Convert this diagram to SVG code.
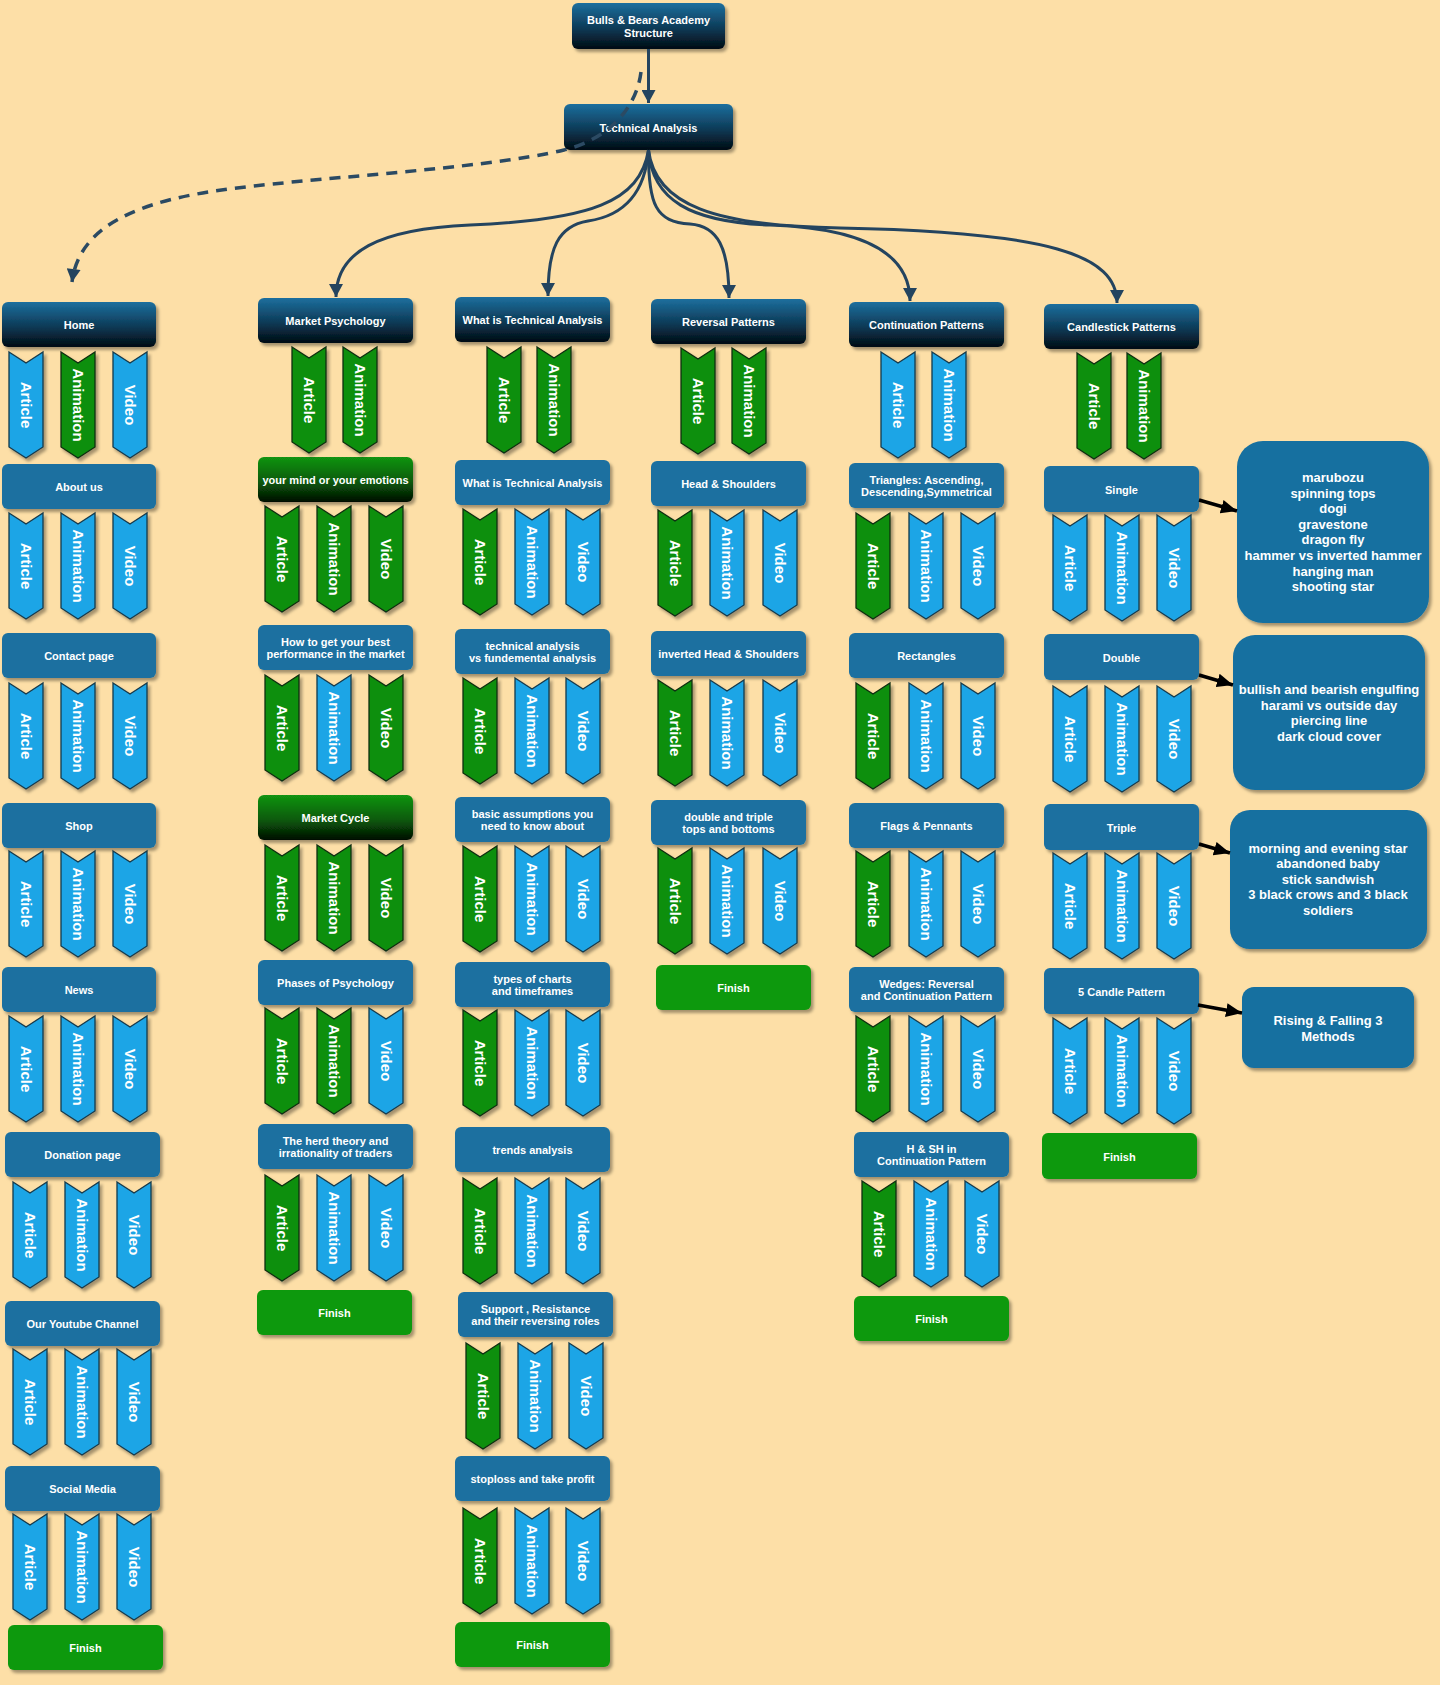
<svg xmlns="http://www.w3.org/2000/svg" xmlns:xlink="http://www.w3.org/1999/xlink" width="1440" height="1685" viewBox="0 0 1440 1685">
<defs>
<linearGradient id="gHd" x1="0" y1="0" x2="0" y2="1"><stop offset="0" stop-color="#1d6f9e"/><stop offset="0.55" stop-color="#0d3a56"/><stop offset="1" stop-color="#020b12"/></linearGradient>
<linearGradient id="gGn" x1="0" y1="0" x2="0" y2="1"><stop offset="0" stop-color="#129412"/><stop offset="0.55" stop-color="#0a5a0a"/><stop offset="1" stop-color="#020e02"/></linearGradient>
<filter id="sh" x="-10%" y="-10%" width="125%" height="135%"><feDropShadow dx="2.5" dy="3" stdDeviation="1.8" flood-color="#000" flood-opacity="0.35"/></filter>
<path id="cv" d="M0,0 L17,11 L34,0 L34,95 L17,106 L0,95 Z"/>
<marker id="mA" markerUnits="userSpaceOnUse" markerWidth="14" markerHeight="14" viewBox="0 0 12 13" refX="12" refY="6.5" orient="auto"><path d="M0,0 L12,6.5 L0,13 Z" fill="#24445f"/></marker>
<marker id="mK" markerUnits="userSpaceOnUse" markerWidth="16" markerHeight="16" viewBox="0 0 15 13" refX="15" refY="6.5" orient="auto"><path d="M0,0 L15,6.5 L0,13 Z" fill="#000"/></marker>
<style>
.hd{fill:url(#gHd);filter:url(#sh)}
.nb{fill:#1a70a0;filter:url(#sh)}
.gn{fill:url(#gGn);filter:url(#sh)}
.fin{fill:#0a990a;filter:url(#sh)}
.rb{fill:#156fa0;filter:url(#sh)}
.lb{font-family:"Liberation Sans",Arial,sans-serif;font-weight:bold;font-size:11px;fill:#fff;text-anchor:middle}
.rt{font-family:"Liberation Sans",Arial,sans-serif;font-weight:bold;font-size:13px;fill:#fff;text-anchor:middle}
.cb{fill:#1fa5e6;stroke:#173a4c;stroke-width:1.3;filter:url(#sh)}
.cg{fill:#0a8f10;stroke:#0f2e12;stroke-width:1.3;filter:url(#sh)}
.ct{font-family:"Liberation Sans",Arial,sans-serif;font-weight:bold;font-size:15px;fill:#fff;text-anchor:middle;dominant-baseline:central}
.cn{fill:none;stroke:#24445f;stroke-width:3}
.dsh{fill:none;stroke:#2b4a63;stroke-width:3.5;stroke-dasharray:11 8}
.blk{fill:none;stroke:#000;stroke-width:3.5}
</style>
</defs>
<rect x="0" y="0" width="1440" height="1685" fill="#fddfa7"/>

<g id="nodes">
<g id="n-root"><rect class="hd" x="572" y="3" width="153" height="46" rx="6"/><text class="lb" x="648.5" y="24">Bulls &amp; Bears Academy</text><text class="lb" x="648.5" y="37">Structure</text></g>
<g id="n-ta"><rect class="hd" x="564" y="104" width="169" height="46" rx="6"/><text class="lb" x="648.5" y="132">Technical Analysis</text></g>

<!-- Column 1 -->
<g id="n-home"><rect class="hd" x="2" y="302" width="154" height="45" rx="6"/><text class="lb" x="79" y="329">Home</text></g>
<g id="n-about"><rect class="nb" x="2" y="464" width="154" height="45" rx="6"/><text class="lb" x="79" y="491">About us</text></g>
<g id="n-contact"><rect class="nb" x="2" y="633" width="154" height="45" rx="6"/><text class="lb" x="79" y="660">Contact page</text></g>
<g id="n-shop"><rect class="nb" x="2" y="803" width="154" height="45" rx="6"/><text class="lb" x="79" y="830">Shop</text></g>
<g id="n-news"><rect class="nb" x="2" y="967" width="154" height="45" rx="6"/><text class="lb" x="79" y="994">News</text></g>
<g id="n-donation"><rect class="nb" x="5" y="1132" width="155" height="45" rx="6"/><text class="lb" x="82.5" y="1159">Donation page</text></g>
<g id="n-youtube"><rect class="nb" x="5" y="1301" width="155" height="45" rx="6"/><text class="lb" x="82.5" y="1328">Our Youtube Channel</text></g>
<g id="n-social"><rect class="nb" x="5" y="1466" width="155" height="45" rx="6"/><text class="lb" x="82.5" y="1493">Social Media</text></g>
<g id="n-fin1"><rect class="fin" x="8" y="1625" width="155" height="45" rx="6"/><text class="lb" x="85.5" y="1652">Finish</text></g>

<!-- Column 2 -->
<g id="n-mp"><rect class="hd" x="258" y="298" width="155" height="45" rx="6"/><text class="lb" x="335.5" y="325">Market Psychology</text></g>
<g id="n-mind"><rect class="gn" x="258" y="457" width="155" height="45" rx="6"/><text class="lb" x="335.5" y="484">your mind or your emotions</text></g>
<g id="n-best"><rect class="nb" x="258" y="625" width="155" height="45" rx="6"/><text class="lb" x="335.5" y="646">How to get your best</text><text class="lb" x="335.5" y="658">performance in the market</text></g>
<g id="n-cycle"><rect class="gn" x="258" y="795" width="155" height="45" rx="6"/><text class="lb" x="335.5" y="822">Market Cycle</text></g>
<g id="n-phases"><rect class="nb" x="258" y="960" width="155" height="45" rx="6"/><text class="lb" x="335.5" y="987">Phases of Psychology</text></g>
<g id="n-herd"><rect class="nb" x="258" y="1124" width="155" height="45" rx="6"/><text class="lb" x="335.5" y="1145">The herd theory and</text><text class="lb" x="335.5" y="1157">irrationality of traders</text></g>
<g id="n-fin2"><rect class="fin" x="257" y="1290" width="155" height="45" rx="6"/><text class="lb" x="334.5" y="1317">Finish</text></g>

<!-- Column 3 -->
<g id="n-wita"><rect class="hd" x="455" y="297" width="155" height="45" rx="6"/><text class="lb" x="532.5" y="324">What is Technical Analysis</text></g>
<g id="n-wita2"><rect class="nb" x="455" y="460" width="155" height="45" rx="6"/><text class="lb" x="532.5" y="487">What is Technical Analysis</text></g>
<g id="n-tavsfa"><rect class="nb" x="455" y="629" width="155" height="45" rx="6"/><text class="lb" x="532.5" y="650">technical analysis</text><text class="lb" x="532.5" y="662">vs fundemental analysis</text></g>
<g id="n-basic"><rect class="nb" x="455" y="797" width="155" height="45" rx="6"/><text class="lb" x="532.5" y="818">basic assumptions you</text><text class="lb" x="532.5" y="830">need to know about</text></g>
<g id="n-charts"><rect class="nb" x="455" y="962" width="155" height="45" rx="6"/><text class="lb" x="532.5" y="983">types of charts</text><text class="lb" x="532.5" y="995">and timeframes</text></g>
<g id="n-trends"><rect class="nb" x="455" y="1127" width="155" height="45" rx="6"/><text class="lb" x="532.5" y="1154">trends analysis</text></g>
<g id="n-support"><rect class="nb" x="458" y="1292" width="155" height="45" rx="6"/><text class="lb" x="535.5" y="1313">Support , Resistance</text><text class="lb" x="535.5" y="1325">and their reversing roles</text></g>
<g id="n-stop"><rect class="nb" x="455" y="1456" width="155" height="45" rx="6"/><text class="lb" x="532.5" y="1483">stoploss and take profit</text></g>
<g id="n-fin3"><rect class="fin" x="455" y="1622" width="155" height="45" rx="6"/><text class="lb" x="532.5" y="1649">Finish</text></g>

<!-- Column 4 -->
<g id="n-rev"><rect class="hd" x="651" y="299" width="155" height="45" rx="6"/><text class="lb" x="728.5" y="326">Reversal Patterns</text></g>
<g id="n-hs"><rect class="nb" x="651" y="461" width="155" height="45" rx="6"/><text class="lb" x="728.5" y="488">Head &amp; Shoulders</text></g>
<g id="n-ihs"><rect class="nb" x="651" y="631" width="155" height="45" rx="6"/><text class="lb" x="728.5" y="658">inverted Head &amp; Shoulders</text></g>
<g id="n-dbl"><rect class="nb" x="651" y="800" width="155" height="45" rx="6"/><text class="lb" x="728.5" y="821">double and triple</text><text class="lb" x="728.5" y="833">tops and bottoms</text></g>
<g id="n-fin4"><rect class="fin" x="656" y="965" width="155" height="45" rx="6"/><text class="lb" x="733.5" y="992">Finish</text></g>

<!-- Column 5 -->
<g id="n-cont"><rect class="hd" x="849" y="302" width="155" height="45" rx="6"/><text class="lb" x="926.5" y="329">Continuation Patterns</text></g>
<g id="n-tri"><rect class="nb" x="849" y="463" width="155" height="45" rx="6"/><text class="lb" x="926.5" y="484">Triangles: Ascending,</text><text class="lb" x="926.5" y="496">Descending,Symmetrical</text></g>
<g id="n-rect"><rect class="nb" x="849" y="633" width="155" height="45" rx="6"/><text class="lb" x="926.5" y="660">Rectangles</text></g>
<g id="n-flags"><rect class="nb" x="849" y="803" width="155" height="45" rx="6"/><text class="lb" x="926.5" y="830">Flags &amp; Pennants</text></g>
<g id="n-wedges"><rect class="nb" x="849" y="967" width="155" height="45" rx="6"/><text class="lb" x="926.5" y="988">Wedges: Reversal</text><text class="lb" x="926.5" y="1000">and Continuation Pattern</text></g>
<g id="n-hsh"><rect class="nb" x="854" y="1132" width="155" height="45" rx="6"/><text class="lb" x="931.5" y="1153">H &amp; SH in</text><text class="lb" x="931.5" y="1165">Continuation Pattern</text></g>
<g id="n-fin5"><rect class="fin" x="854" y="1296" width="155" height="45" rx="6"/><text class="lb" x="931.5" y="1323">Finish</text></g>

<!-- Column 6 -->
<g id="n-candle"><rect class="hd" x="1044" y="304" width="155" height="45" rx="6"/><text class="lb" x="1121.5" y="331">Candlestick Patterns</text></g>
<g id="n-single"><rect class="nb" x="1044" y="466" width="155" height="46" rx="6"/><text class="lb" x="1121.5" y="494">Single</text></g>
<g id="n-double"><rect class="nb" x="1044" y="634" width="155" height="46" rx="6"/><text class="lb" x="1121.5" y="662">Double</text></g>
<g id="n-triple"><rect class="nb" x="1044" y="804" width="155" height="46" rx="6"/><text class="lb" x="1121.5" y="832">Triple</text></g>
<g id="n-five"><rect class="nb" x="1044" y="968" width="155" height="46" rx="6"/><text class="lb" x="1121.5" y="996">5 Candle Pattern</text></g>
<g id="n-fin6"><rect class="fin" x="1042" y="1133" width="155" height="46" rx="6"/><text class="lb" x="1119.5" y="1161">Finish</text></g>

<!-- Right info boxes -->
<g id="n-single-list"><rect class="rb" x="1237" y="441" width="192" height="182" rx="26"/>
<text class="rt" x="1333" y="482">marubozu</text><text class="rt" x="1333" y="497.5">spinning tops</text><text class="rt" x="1333" y="513">dogi</text><text class="rt" x="1333" y="528.5">gravestone</text><text class="rt" x="1333" y="544">dragon fly</text><text class="rt" x="1333" y="560">hammer vs inverted hammer</text><text class="rt" x="1333" y="575.5">hanging man</text><text class="rt" x="1333" y="591">shooting star</text></g>
<g id="n-double-list"><rect class="rb" x="1233" y="635" width="192" height="155" rx="22"/>
<text class="rt" x="1329" y="694">bullish and bearish engulfing</text><text class="rt" x="1329" y="709.5">harami vs outside day</text><text class="rt" x="1329" y="725">piercing line</text><text class="rt" x="1329" y="740.5">dark cloud cover</text></g>
<g id="n-triple-list"><rect class="rb" x="1230" y="810" width="197" height="139" rx="20"/>
<text class="rt" x="1328" y="852.5">morning and evening star</text><text class="rt" x="1328" y="868">abandoned baby</text><text class="rt" x="1328" y="883.5">stick sandwish</text><text class="rt" x="1328" y="899">3 black crows and 3 black</text><text class="rt" x="1328" y="914.5">soldiers</text></g>
<g id="n-five-list"><rect class="rb" x="1242" y="987" width="172" height="81" rx="12"/>
<text class="rt" x="1328" y="1024.5">Rising &amp; Falling 3</text><text class="rt" x="1328" y="1040.5">Methods</text></g>
</g>

<g id="chevrons">
<!-- Column 1 -->
<g id="c-home-a"><use href="#cv" x="9" y="352" class="cb"/><text class="ct" transform="translate(26,405) rotate(90)">Article</text></g>
<g id="c-home-b"><use href="#cv" x="61" y="352" class="cg"/><text class="ct" transform="translate(78,405) rotate(90)">Animation</text></g>
<g id="c-home-c"><use href="#cv" x="113" y="352" class="cb"/><text class="ct" transform="translate(130,405) rotate(90)">Video</text></g>
<g id="c-about-a"><use href="#cv" x="9" y="513" class="cb"/><text class="ct" transform="translate(26,566) rotate(90)">Article</text></g>
<g id="c-about-b"><use href="#cv" x="61" y="513" class="cb"/><text class="ct" transform="translate(78,566) rotate(90)">Animation</text></g>
<g id="c-about-c"><use href="#cv" x="113" y="513" class="cb"/><text class="ct" transform="translate(130,566) rotate(90)">Video</text></g>
<g id="c-contact-a"><use href="#cv" x="9" y="683" class="cb"/><text class="ct" transform="translate(26,736) rotate(90)">Article</text></g>
<g id="c-contact-b"><use href="#cv" x="61" y="683" class="cb"/><text class="ct" transform="translate(78,736) rotate(90)">Animation</text></g>
<g id="c-contact-c"><use href="#cv" x="113" y="683" class="cb"/><text class="ct" transform="translate(130,736) rotate(90)">Video</text></g>
<g id="c-shop-a"><use href="#cv" x="9" y="851" class="cb"/><text class="ct" transform="translate(26,904) rotate(90)">Article</text></g>
<g id="c-shop-b"><use href="#cv" x="61" y="851" class="cb"/><text class="ct" transform="translate(78,904) rotate(90)">Animation</text></g>
<g id="c-shop-c"><use href="#cv" x="113" y="851" class="cb"/><text class="ct" transform="translate(130,904) rotate(90)">Video</text></g>
<g id="c-news-a"><use href="#cv" x="9" y="1016" class="cb"/><text class="ct" transform="translate(26,1069) rotate(90)">Article</text></g>
<g id="c-news-b"><use href="#cv" x="61" y="1016" class="cb"/><text class="ct" transform="translate(78,1069) rotate(90)">Animation</text></g>
<g id="c-news-c"><use href="#cv" x="113" y="1016" class="cb"/><text class="ct" transform="translate(130,1069) rotate(90)">Video</text></g>
<g id="c-don-a"><use href="#cv" x="13" y="1182" class="cb"/><text class="ct" transform="translate(30,1235) rotate(90)">Article</text></g>
<g id="c-don-b"><use href="#cv" x="65" y="1182" class="cb"/><text class="ct" transform="translate(82,1235) rotate(90)">Animation</text></g>
<g id="c-don-c"><use href="#cv" x="117" y="1182" class="cb"/><text class="ct" transform="translate(134,1235) rotate(90)">Video</text></g>
<g id="c-yt-a"><use href="#cv" x="13" y="1349" class="cb"/><text class="ct" transform="translate(30,1402) rotate(90)">Article</text></g>
<g id="c-yt-b"><use href="#cv" x="65" y="1349" class="cb"/><text class="ct" transform="translate(82,1402) rotate(90)">Animation</text></g>
<g id="c-yt-c"><use href="#cv" x="117" y="1349" class="cb"/><text class="ct" transform="translate(134,1402) rotate(90)">Video</text></g>
<g id="c-soc-a"><use href="#cv" x="13" y="1514" class="cb"/><text class="ct" transform="translate(30,1567) rotate(90)">Article</text></g>
<g id="c-soc-b"><use href="#cv" x="65" y="1514" class="cb"/><text class="ct" transform="translate(82,1567) rotate(90)">Animation</text></g>
<g id="c-soc-c"><use href="#cv" x="117" y="1514" class="cb"/><text class="ct" transform="translate(134,1567) rotate(90)">Video</text></g>

<!-- Column 2 -->
<g id="c-mp-a"><use href="#cv" x="292" y="347" class="cg"/><text class="ct" transform="translate(309,400) rotate(90)">Article</text></g>
<g id="c-mp-b"><use href="#cv" x="343" y="347" class="cg"/><text class="ct" transform="translate(360,400) rotate(90)">Animation</text></g>
<g id="c-mind-a"><use href="#cv" x="265" y="506" class="cg"/><text class="ct" transform="translate(282,559) rotate(90)">Article</text></g>
<g id="c-mind-b"><use href="#cv" x="317" y="506" class="cg"/><text class="ct" transform="translate(334,559) rotate(90)">Animation</text></g>
<g id="c-mind-c"><use href="#cv" x="369" y="506" class="cg"/><text class="ct" transform="translate(386,559) rotate(90)">Video</text></g>
<g id="c-best-a"><use href="#cv" x="265" y="675" class="cg"/><text class="ct" transform="translate(282,728) rotate(90)">Article</text></g>
<g id="c-best-b"><use href="#cv" x="317" y="675" class="cb"/><text class="ct" transform="translate(334,728) rotate(90)">Animation</text></g>
<g id="c-best-c"><use href="#cv" x="369" y="675" class="cg"/><text class="ct" transform="translate(386,728) rotate(90)">Video</text></g>
<g id="c-cycle-a"><use href="#cv" x="265" y="845" class="cg"/><text class="ct" transform="translate(282,898) rotate(90)">Article</text></g>
<g id="c-cycle-b"><use href="#cv" x="317" y="845" class="cg"/><text class="ct" transform="translate(334,898) rotate(90)">Animation</text></g>
<g id="c-cycle-c"><use href="#cv" x="369" y="845" class="cg"/><text class="ct" transform="translate(386,898) rotate(90)">Video</text></g>
<g id="c-phases-a"><use href="#cv" x="265" y="1008" class="cg"/><text class="ct" transform="translate(282,1061) rotate(90)">Article</text></g>
<g id="c-phases-b"><use href="#cv" x="317" y="1008" class="cg"/><text class="ct" transform="translate(334,1061) rotate(90)">Animation</text></g>
<g id="c-phases-c"><use href="#cv" x="369" y="1008" class="cb"/><text class="ct" transform="translate(386,1061) rotate(90)">Video</text></g>
<g id="c-herd-a"><use href="#cv" x="265" y="1175" class="cg"/><text class="ct" transform="translate(282,1228) rotate(90)">Article</text></g>
<g id="c-herd-b"><use href="#cv" x="317" y="1175" class="cb"/><text class="ct" transform="translate(334,1228) rotate(90)">Animation</text></g>
<g id="c-herd-c"><use href="#cv" x="369" y="1175" class="cb"/><text class="ct" transform="translate(386,1228) rotate(90)">Video</text></g>

<!-- Column 3 -->
<g id="c-wita-a"><use href="#cv" x="487" y="347" class="cg"/><text class="ct" transform="translate(504,400) rotate(90)">Article</text></g>
<g id="c-wita-b"><use href="#cv" x="537" y="347" class="cg"/><text class="ct" transform="translate(554,400) rotate(90)">Animation</text></g>
<g id="c-wita2-a"><use href="#cv" x="463" y="509" class="cg"/><text class="ct" transform="translate(480,562) rotate(90)">Article</text></g>
<g id="c-wita2-b"><use href="#cv" x="515" y="509" class="cb"/><text class="ct" transform="translate(532,562) rotate(90)">Animation</text></g>
<g id="c-wita2-c"><use href="#cv" x="566" y="509" class="cb"/><text class="ct" transform="translate(583,562) rotate(90)">Video</text></g>
<g id="c-tavs-a"><use href="#cv" x="463" y="678" class="cg"/><text class="ct" transform="translate(480,731) rotate(90)">Article</text></g>
<g id="c-tavs-b"><use href="#cv" x="515" y="678" class="cb"/><text class="ct" transform="translate(532,731) rotate(90)">Animation</text></g>
<g id="c-tavs-c"><use href="#cv" x="566" y="678" class="cb"/><text class="ct" transform="translate(583,731) rotate(90)">Video</text></g>
<g id="c-basic-a"><use href="#cv" x="463" y="846" class="cg"/><text class="ct" transform="translate(480,899) rotate(90)">Article</text></g>
<g id="c-basic-b"><use href="#cv" x="515" y="846" class="cb"/><text class="ct" transform="translate(532,899) rotate(90)">Animation</text></g>
<g id="c-basic-c"><use href="#cv" x="566" y="846" class="cb"/><text class="ct" transform="translate(583,899) rotate(90)">Video</text></g>
<g id="c-charts-a"><use href="#cv" x="463" y="1010" class="cg"/><text class="ct" transform="translate(480,1063) rotate(90)">Article</text></g>
<g id="c-charts-b"><use href="#cv" x="515" y="1010" class="cb"/><text class="ct" transform="translate(532,1063) rotate(90)">Animation</text></g>
<g id="c-charts-c"><use href="#cv" x="566" y="1010" class="cb"/><text class="ct" transform="translate(583,1063) rotate(90)">Video</text></g>
<g id="c-trends-a"><use href="#cv" x="463" y="1178" class="cg"/><text class="ct" transform="translate(480,1231) rotate(90)">Article</text></g>
<g id="c-trends-b"><use href="#cv" x="515" y="1178" class="cb"/><text class="ct" transform="translate(532,1231) rotate(90)">Animation</text></g>
<g id="c-trends-c"><use href="#cv" x="566" y="1178" class="cb"/><text class="ct" transform="translate(583,1231) rotate(90)">Video</text></g>
<g id="c-support-a"><use href="#cv" x="466" y="1343" class="cg"/><text class="ct" transform="translate(483,1396) rotate(90)">Article</text></g>
<g id="c-support-b"><use href="#cv" x="518" y="1343" class="cb"/><text class="ct" transform="translate(535,1396) rotate(90)">Animation</text></g>
<g id="c-support-c"><use href="#cv" x="569" y="1343" class="cb"/><text class="ct" transform="translate(586,1396) rotate(90)">Video</text></g>
<g id="c-stop-a"><use href="#cv" x="463" y="1508" class="cg"/><text class="ct" transform="translate(480,1561) rotate(90)">Article</text></g>
<g id="c-stop-b"><use href="#cv" x="515" y="1508" class="cb"/><text class="ct" transform="translate(532,1561) rotate(90)">Animation</text></g>
<g id="c-stop-c"><use href="#cv" x="566" y="1508" class="cb"/><text class="ct" transform="translate(583,1561) rotate(90)">Video</text></g>

<!-- Column 4 -->
<g id="c-rev-a"><use href="#cv" x="681" y="348" class="cg"/><text class="ct" transform="translate(698,401) rotate(90)">Article</text></g>
<g id="c-rev-b"><use href="#cv" x="732" y="348" class="cg"/><text class="ct" transform="translate(749,401) rotate(90)">Animation</text></g>
<g id="c-hs-a"><use href="#cv" x="658" y="510" class="cg"/><text class="ct" transform="translate(675,563) rotate(90)">Article</text></g>
<g id="c-hs-b"><use href="#cv" x="710" y="510" class="cb"/><text class="ct" transform="translate(727,563) rotate(90)">Animation</text></g>
<g id="c-hs-c"><use href="#cv" x="763" y="510" class="cb"/><text class="ct" transform="translate(780,563) rotate(90)">Video</text></g>
<g id="c-ihs-a"><use href="#cv" x="658" y="680" class="cg"/><text class="ct" transform="translate(675,733) rotate(90)">Article</text></g>
<g id="c-ihs-b"><use href="#cv" x="710" y="680" class="cb"/><text class="ct" transform="translate(727,733) rotate(90)">Animation</text></g>
<g id="c-ihs-c"><use href="#cv" x="763" y="680" class="cb"/><text class="ct" transform="translate(780,733) rotate(90)">Video</text></g>
<g id="c-dbl-a"><use href="#cv" x="658" y="848" class="cg"/><text class="ct" transform="translate(675,901) rotate(90)">Article</text></g>
<g id="c-dbl-b"><use href="#cv" x="710" y="848" class="cb"/><text class="ct" transform="translate(727,901) rotate(90)">Animation</text></g>
<g id="c-dbl-c"><use href="#cv" x="763" y="848" class="cb"/><text class="ct" transform="translate(780,901) rotate(90)">Video</text></g>

<!-- Column 5 -->
<g id="c-cont-a"><use href="#cv" x="881" y="352" class="cb"/><text class="ct" transform="translate(898,405) rotate(90)">Article</text></g>
<g id="c-cont-b"><use href="#cv" x="932" y="352" class="cb"/><text class="ct" transform="translate(949,405) rotate(90)">Animation</text></g>
<g id="c-tri-a"><use href="#cv" x="856" y="513" class="cg"/><text class="ct" transform="translate(873,566) rotate(90)">Article</text></g>
<g id="c-tri-b"><use href="#cv" x="909" y="513" class="cb"/><text class="ct" transform="translate(926,566) rotate(90)">Animation</text></g>
<g id="c-tri-c"><use href="#cv" x="961" y="513" class="cb"/><text class="ct" transform="translate(978,566) rotate(90)">Video</text></g>
<g id="c-rect-a"><use href="#cv" x="856" y="683" class="cg"/><text class="ct" transform="translate(873,736) rotate(90)">Article</text></g>
<g id="c-rect-b"><use href="#cv" x="909" y="683" class="cb"/><text class="ct" transform="translate(926,736) rotate(90)">Animation</text></g>
<g id="c-rect-c"><use href="#cv" x="961" y="683" class="cb"/><text class="ct" transform="translate(978,736) rotate(90)">Video</text></g>
<g id="c-flags-a"><use href="#cv" x="856" y="851" class="cg"/><text class="ct" transform="translate(873,904) rotate(90)">Article</text></g>
<g id="c-flags-b"><use href="#cv" x="909" y="851" class="cb"/><text class="ct" transform="translate(926,904) rotate(90)">Animation</text></g>
<g id="c-flags-c"><use href="#cv" x="961" y="851" class="cb"/><text class="ct" transform="translate(978,904) rotate(90)">Video</text></g>
<g id="c-wedges-a"><use href="#cv" x="856" y="1016" class="cg"/><text class="ct" transform="translate(873,1069) rotate(90)">Article</text></g>
<g id="c-wedges-b"><use href="#cv" x="909" y="1016" class="cb"/><text class="ct" transform="translate(926,1069) rotate(90)">Animation</text></g>
<g id="c-wedges-c"><use href="#cv" x="961" y="1016" class="cb"/><text class="ct" transform="translate(978,1069) rotate(90)">Video</text></g>
<g id="c-hsh-a"><use href="#cv" x="862" y="1181" class="cg"/><text class="ct" transform="translate(879,1234) rotate(90)">Article</text></g>
<g id="c-hsh-b"><use href="#cv" x="914" y="1181" class="cb"/><text class="ct" transform="translate(931,1234) rotate(90)">Animation</text></g>
<g id="c-hsh-c"><use href="#cv" x="965" y="1181" class="cb"/><text class="ct" transform="translate(982,1234) rotate(90)">Video</text></g>

<!-- Column 6 -->
<g id="c-candle-a"><use href="#cv" x="1077" y="353" class="cg"/><text class="ct" transform="translate(1094,406) rotate(90)">Article</text></g>
<g id="c-candle-b"><use href="#cv" x="1127" y="353" class="cg"/><text class="ct" transform="translate(1144,406) rotate(90)">Animation</text></g>
<g id="c-single-a"><use href="#cv" x="1053" y="515" class="cb"/><text class="ct" transform="translate(1070,568) rotate(90)">Article</text></g>
<g id="c-single-b"><use href="#cv" x="1105" y="515" class="cb"/><text class="ct" transform="translate(1122,568) rotate(90)">Animation</text></g>
<g id="c-single-c"><use href="#cv" x="1157" y="515" class="cb"/><text class="ct" transform="translate(1174,568) rotate(90)">Video</text></g>
<g id="c-double-a"><use href="#cv" x="1053" y="686" class="cb"/><text class="ct" transform="translate(1070,739) rotate(90)">Article</text></g>
<g id="c-double-b"><use href="#cv" x="1105" y="686" class="cb"/><text class="ct" transform="translate(1122,739) rotate(90)">Animation</text></g>
<g id="c-double-c"><use href="#cv" x="1157" y="686" class="cb"/><text class="ct" transform="translate(1174,739) rotate(90)">Video</text></g>
<g id="c-triple-a"><use href="#cv" x="1053" y="853" class="cb"/><text class="ct" transform="translate(1070,906) rotate(90)">Article</text></g>
<g id="c-triple-b"><use href="#cv" x="1105" y="853" class="cb"/><text class="ct" transform="translate(1122,906) rotate(90)">Animation</text></g>
<g id="c-triple-c"><use href="#cv" x="1157" y="853" class="cb"/><text class="ct" transform="translate(1174,906) rotate(90)">Video</text></g>
<g id="c-five-a"><use href="#cv" x="1053" y="1018" class="cb"/><text class="ct" transform="translate(1070,1071) rotate(90)">Article</text></g>
<g id="c-five-b"><use href="#cv" x="1105" y="1018" class="cb"/><text class="ct" transform="translate(1122,1071) rotate(90)">Animation</text></g>
<g id="c-five-c"><use href="#cv" x="1157" y="1018" class="cb"/><text class="ct" transform="translate(1174,1071) rotate(90)">Video</text></g>
</g>

<g id="connectors">
<path class="cn" d="M648.5,49 L648.5,103" marker-end="url(#mA)"/>
<path class="cn" d="M648.5,150 C648,205 656,222 690,224 C718,226 729,248 729,298" marker-end="url(#mA)"/>
<path class="cn" d="M648.5,150 C652,200 690,222 770,225 C860,228 910,252 910,301" marker-end="url(#mA)"/>
<path class="cn" d="M648.5,150 C655,205 715,226 840,228 C1050,232 1117,255 1117,303" marker-end="url(#mA)"/>
<path class="cn" d="M648.5,150 C645,195 622,216 588,221 C558,226 548,248 548,296" marker-end="url(#mA)"/>
<path class="cn" d="M648.5,150 C640,202 590,220 470,225 C378,229 336,252 336,297" marker-end="url(#mA)"/>
<path class="dsh" d="M641,72 C637,105 612,138 564,150 C480,170 300,178 215,191 C120,205 78,235 72,282" marker-end="url(#mA)"/>
<path class="blk" d="M1199,500 L1237,511" marker-end="url(#mK)"/>
<path class="blk" d="M1199,675 L1233,685" marker-end="url(#mK)"/>
<path class="blk" d="M1199,844 L1230,853" marker-end="url(#mK)"/>
<path class="blk" d="M1198,1005 L1242,1013" marker-end="url(#mK)"/>
</g>
</svg>
